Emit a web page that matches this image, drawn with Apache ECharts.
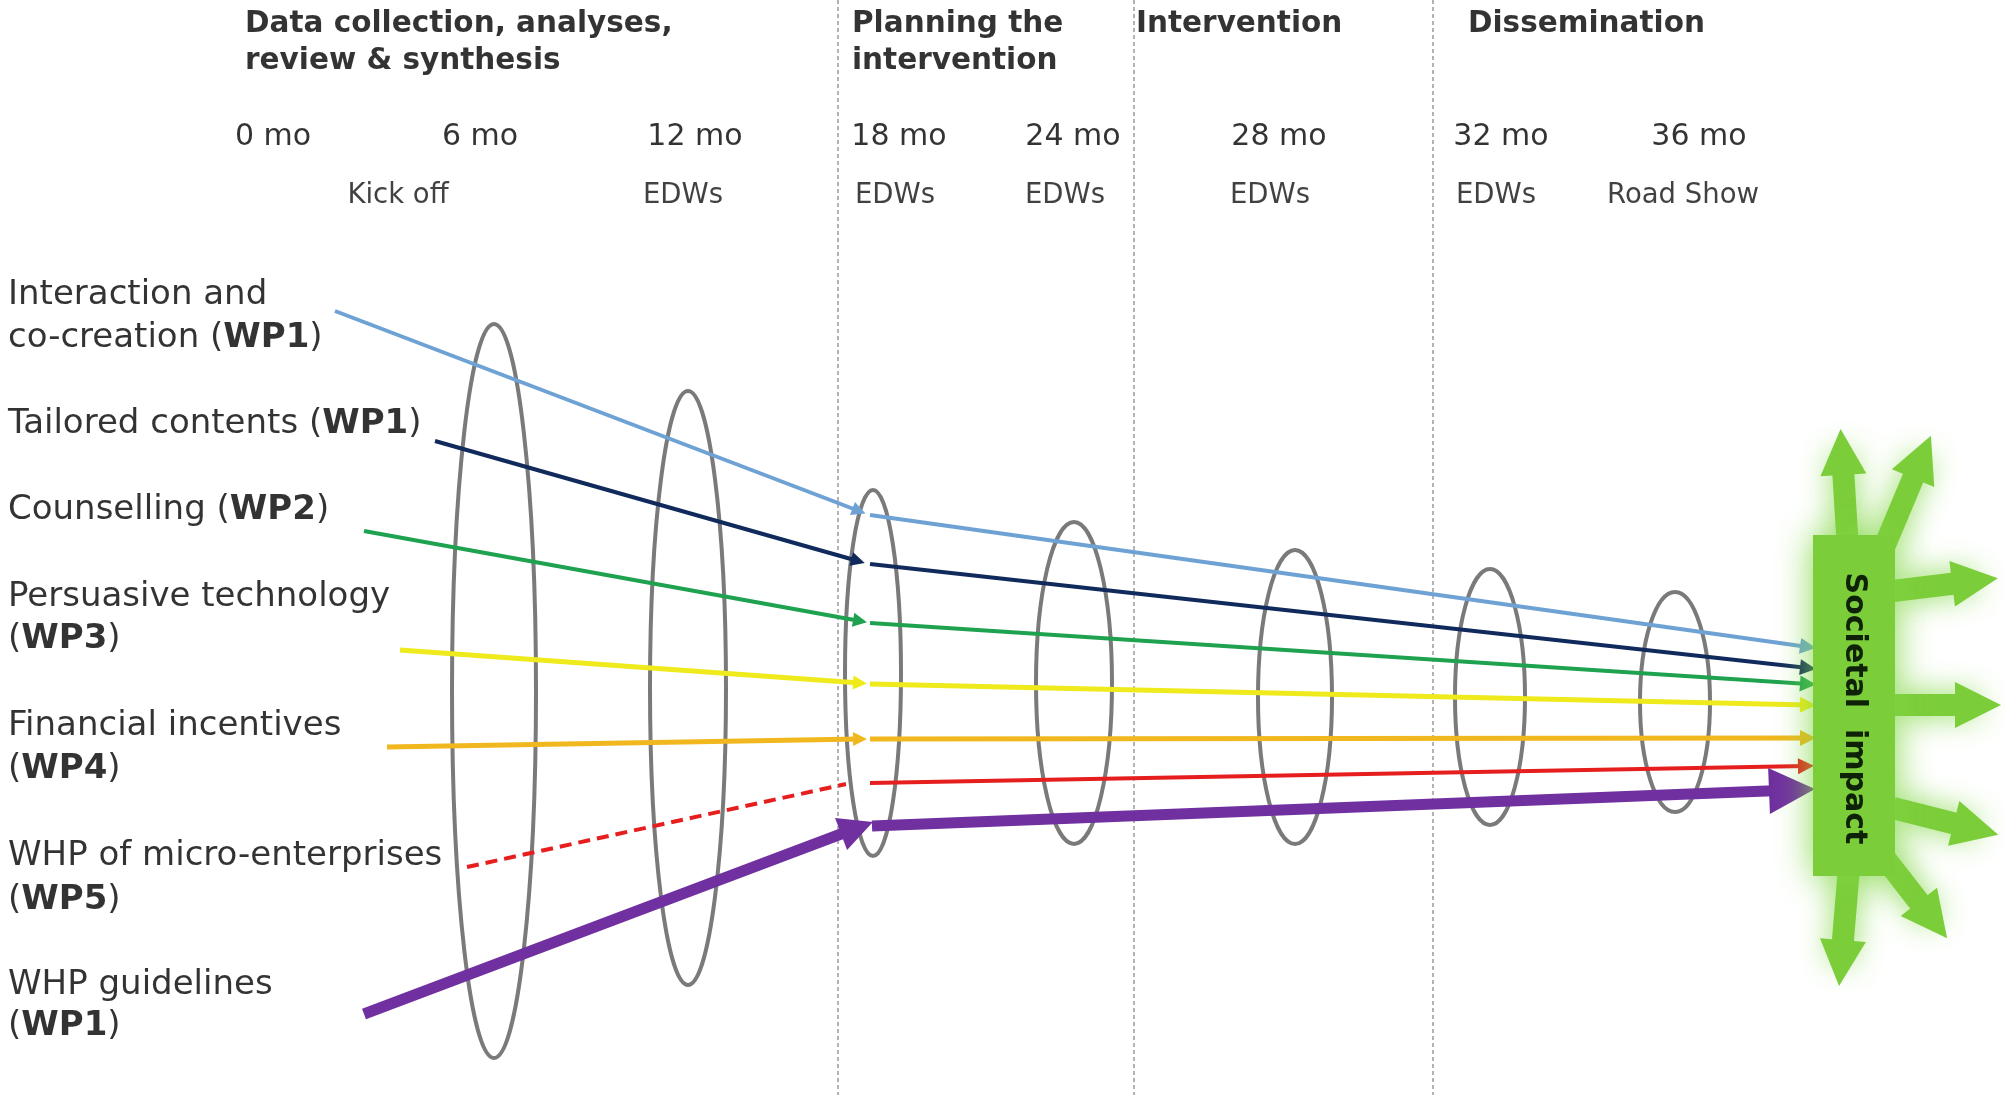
<!DOCTYPE html>
<html>
<head>
<meta charset="utf-8">
<script src="https://cdn.jsdelivr.net/npm/echarts@6/dist/echarts.min.js"></script>
<style>html,body{margin:0;padding:0;background:#fff}#c{width:2005px;height:1095px}</style>
</head>
<body>
<div id="c"></div>
<script>
// ---------- data (chart units: x 0..2005, y 0..1095 top-down) ----------
const phaseTitles = ['Data collection, analyses,\nreview & synthesis', 'Planning the\nintervention', 'Intervention', 'Dissemination'];
const phaseX = [245, 852, 1136, 1468];
const phaseY = 6;

const monthLabels = ['0 mo', '6 mo', '12 mo', '18 mo', '24 mo', '28 mo', '32 mo', '36 mo'];
const monthX = [273, 480, 695, 899, 1073, 1279, 1501, 1699];
const monthY = 137;

const milestoneLabels = ['Kick off', 'EDWs', 'EDWs', 'EDWs', 'EDWs', 'EDWs', 'Road Show'];
const milestoneX = [398, 683, 895, 1065, 1270, 1496, 1683];
const milestoneY = 196;

const wpLabelLines = ['Interaction and', 'co-creation ({b|WP1})', 'Tailored contents ({b|WP1})', 'Counselling ({b|WP2})',
  'Persuasive technology', '({b|WP3})', 'Financial incentives', '({b|WP4})',
  'WHP of micro-enterprises', '({b|WP5})', 'WHP guidelines', '({b|WP1})'];
const wpLabelY = [295, 338, 424, 510, 597, 639, 726, 769, 856, 900, 985, 1026];
const wpLabelX = 8;

const separatorX = [838, 1134, 1433];

// work-package strands: [first leg, second leg]
const strandNames = ['Interaction and co-creation', 'Tailored contents', 'Counselling', 'Persuasive technology',
  'Financial incentives', 'WHP of micro-enterprises', 'WHP guidelines'];
const strandLeg1 = [
  [[335, 311], [859, 511]],
  [[435, 441], [858, 561]],
  [[364, 531], [860, 621]],
  [[400, 650], [860, 683]],
  [[387, 747], [860, 739]],
  [[467, 867], [846, 784]],
  [[364, 1014], [857, 828]]
];
const strandLeg2 = [
  [[870, 515], [1808, 647]],
  [[870, 564], [1808, 668]],
  [[870, 623], [1808, 684]],
  [[870, 684], [1808, 705]],
  [[870, 739], [1808, 738]],
  [[870, 783], [1806, 766]],
  [[872, 826], [1792, 790]]
];

// review rings: centre x, centre y, half-width, half-height
const ringCx = [494, 688, 873, 1074, 1295, 1490, 1675];
const ringCy = [691, 688, 673, 683, 697, 697, 702];
const ringRx = [42, 38, 28, 38, 37, 35, 35];
const ringRy = [367, 297, 183, 161, 147, 128, 110];

const impactLabel = 'Societal  impact';
const impactBox = [1813, 535, 1895, 876];
const impactArrows = [
  [[1848, 550], [1842, 452]],
  [[1885, 545], [1922, 457]],
  [[1893, 591], [1975, 581]],
  [[1893, 705], [1978, 705]],
  [[1893, 808], [1976, 829]],
  [[1849, 868], [1841, 963]],
  [[1884, 857], [1933, 920]]
];

// ---------- styles ----------
const strandColors = ['#6ea2d5', '#102a5c', '#1fa24f', '#eeea1c', '#f1b71e', '#e61e1e', '#7030a0'];
const strandWidths = [4, 4, 4, 5, 5, 4, 11];
const FONT = 'DejaVu Sans';

const chart = echarts.init(document.getElementById('c'));

function textSeries(name, xs, ys, labels, labelOpt) {
  return {
    type: 'scatter', name, silent: true, symbolSize: 0, z: 10,
    data: labels.map((t, i) => ({ value: [Array.isArray(xs) ? xs[i] : xs, Array.isArray(ys) ? ys[i] : ys], name: t })),
    label: Object.assign({ show: true, formatter: '{b}', position: [0, 0], color: '#000', fontFamily: FONT }, labelOpt)
  };
}

const series = [];

// separators
series.push({
  type: 'lines', coordinateSystem: 'cartesian2d', silent: true, z: 1,
  lineStyle: { color: '#9a9a9a', width: 1.5, type: [4, 3], opacity: 1 },
  data: separatorX.map(x => ({ coords: [[x, 0], [x, 1095]] }))
});

// rings
series.push({
  type: 'custom', coordinateSystem: 'cartesian2d', silent: true, z: 2,
  data: ringCx.map((x, i) => [x, ringCy[i], ringRx[i], ringRy[i]]),
  renderItem(params, api) {
    const c = api.coord([api.value(0), api.value(1)]);
    const s = api.size([api.value(2), api.value(3)]);
    return { type: 'ellipse', shape: { cx: c[0], cy: c[1], rx: s[0], ry: s[1] },
      style: { fill: null, stroke: '#7a7a7a', lineWidth: 4 } };
  }
});

// strands
strandNames.forEach((nm, i) => {
  const w = strandWidths[i];
  const isDashedStart = i === 5;
  const midSize = i === 6 ? 34 : 14;
  const endSize = i === 6 ? 46 : 16;
  series.push({
    type: 'lines', name: nm, coordinateSystem: 'cartesian2d', silent: true, z: 3,
    lineStyle: { color: strandColors[i], width: w, opacity: 1 },
    data: [
      { coords: strandLeg1[i], symbol: isDashedStart ? ['none', 'none'] : ['none', 'triangle'], symbolSize: midSize,
        lineStyle: isDashedStart ? { type: [12, 7], width: 4 } : {} },
      { coords: strandLeg2[i], symbol: ['none', 'triangle'], symbolSize: endSize }
    ]
  });
});

// impact box
series.push({
  type: 'custom', coordinateSystem: 'cartesian2d', silent: true, z: 4,
  data: [[impactBox[0], impactBox[1], impactBox[2], impactBox[3]]],
  renderItem(params, api) {
    const p0 = api.coord([api.value(0), api.value(1)]);
    const p1 = api.coord([api.value(2), api.value(3)]);
    return { type: 'group', children: [
      { type: 'rect', shape: { x: p0[0], y: p0[1], width: p1[0] - p0[0], height: p1[1] - p0[1] },
        style: { fill: '#7ccd3a', shadowBlur: 36, shadowColor: 'rgba(130,215,70,0.95)' } },
      { type: 'text', x: (p0[0] + p1[0]) / 2, y: (p0[1] + p1[1]) / 2 + 3, rotation: -Math.PI / 2,
        style: { text: impactLabel, fill: '#0e2208', font: 'bold 30px "' + FONT + '"', align: 'center', verticalAlign: 'middle' } }
    ] };
  }
});

// impact arrows
series.push({
  type: 'lines', coordinateSystem: 'cartesian2d', silent: true, z: 3,
  symbol: ['none', 'triangle'], symbolSize: 46,
  lineStyle: { color: '#7ccd3a', width: 22, opacity: 1, shadowBlur: 30, shadowColor: 'rgba(130,215,70,0.9)' },
  data: impactArrows.map(c => ({ coords: c }))
});

// texts
series.push(textSeries('phases', phaseX, phaseY, phaseTitles,
  { fontSize: 29.5, fontWeight: 'bold', lineHeight: 37, align: 'left', verticalAlign: 'top', color: '#000' }));
series.push(textSeries('months', monthX, monthY, monthLabels,
  { fontSize: 30, align: 'center', verticalAlign: 'middle', color: '#000' }));
series.push(textSeries('milestones', milestoneX, milestoneY, milestoneLabels,
  { fontSize: 27.5, align: 'center', verticalAlign: 'middle', color: '#111' }));
series.push(textSeries('workpackages', wpLabelX, wpLabelY, wpLabelLines,
  { fontSize: 34, align: 'left', verticalAlign: 'middle', color: '#000',
    rich: { b: { fontSize: 34, fontWeight: 'bold', fontFamily: FONT, color: '#000' } } }));

chart.setOption({
  animation: false,
  backgroundColor: '#ffffff',
  grid: { left: 0, right: 0, top: 0, bottom: 0 },
  xAxis: { type: 'value', min: 0, max: 2005, show: false },
  yAxis: { type: 'value', min: 0, max: 1095, inverse: true, show: false },
  series
});
</script>
</body>
</html>
